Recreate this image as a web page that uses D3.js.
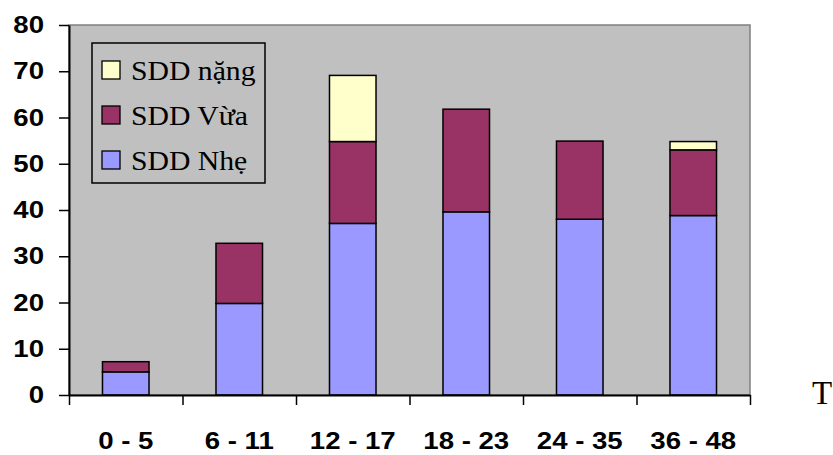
<!DOCTYPE html>
<html>
<head>
<meta charset="utf-8">
<script src="https://cdn.jsdelivr.net/npm/d3@7"></script>
<style>
  html, body { margin: 0; padding: 0; background: #fff; }
  svg { display: block; }
</style>
</head>
<body>
<svg id="chart" width="833" height="455"></svg>
<script>
const categories = ["0 - 5", "6 - 11", "12 - 17", "18 - 23", "24 - 35", "36 - 48"]
const sddNhe = [5, 19.8, 37.1, 39.6, 38, 38.8]
const sddVua = [2.2, 13, 17.7, 22.2, 16.9, 14.2]
const sddNang = [0, 0, 14.3, 0, 0, 1.8]
const yTicks = [0, 10, 20, 30, 40, 50, 60, 70, 80]

const seriesNames = ["SDD Nhẹ", "SDD Vừa", "SDD nặng"]
const colors = ["#9999ff", "#993366", "#ffffcc"]

const margin = { top: 25, bottom: 60, left: 69, right: 83 }
const width = 833
const height = 455
const stretch = 1.15

let svg = d3.select("#chart")

let rows = categories.map((c, i) => ({
  cat: c,
  [seriesNames[0]]: sddNhe[i],
  [seriesNames[1]]: sddVua[i],
  [seriesNames[2]]: sddNang[i],
}))
let stacked = d3.stack().keys(seriesNames)(rows)

const x = d3
  .scaleBand()
  .domain(categories)
  .range([margin.left, width - margin.right])
  .paddingInner(0.59)
  .paddingOuter(0.295)

const xEdge = d3
  .scaleLinear()
  .domain([0, categories.length])
  .range([margin.left, width - margin.right])

const y = d3
  .scaleLinear()
  .domain([0, 80])
  .range([height - margin.bottom, margin.top])

// plot background
svg
  .append("rect")
  .attr("x", margin.left)
  .attr("y", margin.top)
  .attr("width", width - margin.left - margin.right)
  .attr("height", y(0) - margin.top)
  .attr("fill", "#c0c0c0")
  .attr("stroke", "#808080")
  .attr("stroke-width", 1.5)

// bars
let layers = svg
  .append("g")
  .selectAll("g")
  .data(stacked)
  .join("g")
  .attr("fill", (d, i) => colors[i])

layers
  .selectAll("rect")
  .data((d) => d.filter((p) => p[1] - p[0] > 0))
  .join("rect")
  .attr("x", (d) => x(d.data.cat))
  .attr("y", (d) => y(d[1]))
  .attr("width", x.bandwidth())
  .attr("height", (d) => y(d[0]) - y(d[1]))
  .attr("stroke", "#000")
  .attr("stroke-width", 1.5)

// y axis
let yAxis = d3
  .axisLeft(y)
  .tickValues(yTicks)
  .tickSize(10)
  .tickPadding(15)
  .tickSizeOuter(0)

let gy = svg
  .append("g")
  .attr("transform", `translate(${margin.left},0)`)
  .call(yAxis)
gy.select(".domain").attr("stroke", "#000").attr("stroke-width", 2)
gy.selectAll(".tick line").attr("stroke", "#000").attr("stroke-width", 1.5)
gy.selectAll(".tick text")
  .attr("font-family", "'Liberation Sans', Arial, sans-serif")
  .attr("font-weight", "bold")
  .attr("font-size", 24)
  .attr("fill", "#000")
  .each(function () {
    let t = d3.select(this)
    let tx = +t.attr("x")
    t.attr("x", 0).attr("transform", `translate(${tx},0) scale(${stretch},1)`)
  })

// x axis (ticks at category edges)
let xAxis = d3
  .axisBottom(xEdge)
  .tickValues(d3.range(categories.length + 1))
  .tickSize(10)
  .tickSizeOuter(0)
  .tickFormat("")

let gx = svg
  .append("g")
  .attr("transform", `translate(0,${y(0)})`)
  .call(xAxis)
gx.select(".domain").attr("stroke", "#000").attr("stroke-width", 2)
gx.selectAll(".tick line").attr("stroke", "#000").attr("stroke-width", 1.5)

// category labels
svg
  .append("g")
  .selectAll("text")
  .data(categories)
  .join("text")
  .attr("transform", (d) => `translate(${x(d) + x.bandwidth() / 2},449) scale(${stretch},1)`)
  .attr("text-anchor", "middle")
  .attr("font-family", "'Liberation Sans', Arial, sans-serif")
  .attr("font-weight", "bold")
  .attr("font-size", 24)
  .text((d) => d)

// axis title
svg
  .append("text")
  .attr("x", 812)
  .attr("y", 404)
  .attr("font-family", "'Liberation Serif', 'Times New Roman', serif")
  .attr("font-size", 33)
  .text("T")

// legend
let legend = svg.append("g").attr("class", "legend")
legend
  .append("rect")
  .attr("x", 92)
  .attr("y", 43)
  .attr("width", 173)
  .attr("height", 140)
  .attr("fill", "#c0c0c0")
  .attr("stroke", "#000")
  .attr("stroke-width", 1.5)

let legendOrder = [2, 1, 0]
let items = legend
  .selectAll(".legend_item")
  .data(legendOrder)
  .join("g")
  .attr("class", "legend_item")
  .attr("transform", (d, i) => `translate(102,${80 + i * 45})`)

items
  .append("rect")
  .attr("x", 0)
  .attr("y", -19)
  .attr("width", 18)
  .attr("height", 18)
  .attr("fill", (d) => colors[d])
  .attr("stroke", "#000")
  .attr("stroke-width", 1.3)

items
  .append("text")
  .attr("transform", `translate(29,0) scale(1.1,1)`)
  .attr("font-family", "'Liberation Serif', 'Times New Roman', serif")
  .attr("font-size", 27)
  .text((d) => seriesNames[d])
</script>
</body>
</html>
